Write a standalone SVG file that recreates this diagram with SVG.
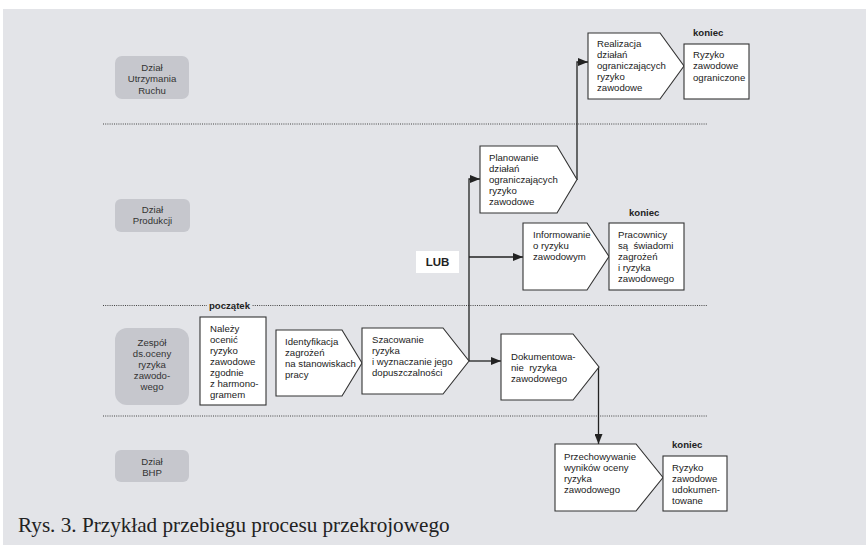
<svg xmlns="http://www.w3.org/2000/svg" width="866" height="545" viewBox="0 0 866 545">
<defs>
<style>
.t{font-family:"Liberation Sans",Arial,sans-serif;font-size:9.6px;fill:#222}
.lane{font-family:"Liberation Sans",Arial,sans-serif;font-size:9.6px;fill:#333;text-anchor:middle}
.b{font-family:"Liberation Sans",Arial,sans-serif;font-size:9.6px;font-weight:bold;fill:#222}
.box{fill:#fff;stroke:#333;stroke-width:1.1}
.lanebox{fill:#c6c7cd}
.dot{stroke:#444;stroke-width:1;stroke-dasharray:1 1.2;fill:none}
.con{stroke:#222;stroke-width:1.3;fill:none}
</style>
<marker id="ah" viewBox="0 0 10 8" refX="10" refY="4" markerWidth="10" markerHeight="8" markerUnits="userSpaceOnUse" orient="auto">
<path d="M0,0 L10,4 L0,8 Z" fill="#222"/>
</marker>
</defs>
<rect x="3" y="9" width="863" height="536" fill="#e3e4e8"/>

<g id="lanes">
<line class="dot" x1="103" y1="124" x2="707" y2="124"/>
<line class="dot" x1="103" y1="305.5" x2="707" y2="305.5"/>
<line class="dot" x1="103" y1="416" x2="707" y2="416"/>
</g>

<g id="lane-utrzymania">
<rect class="lanebox" x="115" y="56" width="74" height="43" rx="7"/>
<text class="lane" x="152" y="70.5">Dział<tspan x="152" dy="11.5">Utrzymania</tspan><tspan x="152" dy="11.5">Ruchu</tspan></text>
</g>
<g id="lane-produkcji">
<rect class="lanebox" x="115" y="199" width="75" height="33" rx="6"/>
<text class="lane" x="152.5" y="213">Dział<tspan x="152.5" dy="11">Produkcji</tspan></text>
</g>
<g id="lane-zespol">
<rect class="lanebox" x="115" y="328" width="74" height="77" rx="12"/>
<text class="lane" x="152" y="345.5">Zespół<tspan x="152" dy="11">ds.oceny</tspan><tspan x="152" dy="11">ryzyka</tspan><tspan x="152" dy="11">zawodo-</tspan><tspan x="152" dy="11">wego</tspan></text>
</g>
<g id="lane-bhp">
<rect class="lanebox" x="115" y="450" width="74" height="32" rx="6"/>
<text class="lane" x="152" y="465">Dział<tspan x="152" dy="11">BHP</tspan></text>
</g>

<g id="connectors">
<polyline class="con" points="469,361 469,179 480,179" marker-end="url(#ah)"/>
<line class="con" x1="469" y1="257" x2="523" y2="257" marker-end="url(#ah)"/>
<line class="con" x1="469" y1="361" x2="501" y2="361" marker-end="url(#ah)"/>
<polyline class="con" points="577,180 577,62 588,62" marker-end="url(#ah)"/>
<line class="con" x1="598.5" y1="367" x2="598.5" y2="444" marker-end="url(#ah)"/>
</g>

<g id="start-label">
<rect x="207" y="300" width="45" height="10" fill="#e3e4e8"/>
<text class="b" x="229.5" y="309" text-anchor="middle">początek</text>
</g>

<g id="n-nalezy">
<rect class="box" x="200" y="317" width="66" height="88"/>
<text class="t" x="210" y="331.5">Należy<tspan x="210" dy="11">ocenić</tspan><tspan x="210" dy="11">ryzyko</tspan><tspan x="210" dy="11">zawodowe</tspan><tspan x="210" dy="11">zgodnie</tspan><tspan x="210" dy="11">z harmono-</tspan><tspan x="210" dy="11">gramem</tspan></text>
</g>

<g id="n-identyfikacja">
<polygon class="box" points="276,330 342,330 362,363 342,396 276,396"/>
<text class="t" x="285" y="344.5">Identyfikacja<tspan x="285" dy="11">zagrożeń</tspan><tspan x="285" dy="11">na stanowiskach</tspan><tspan x="285" dy="11">pracy</tspan></text>
</g>

<g id="n-szacowanie">
<polygon class="box" points="362,328 443,328 469,361 443,394 362,394"/>
<text class="t" x="372" y="342.5">Szacowanie<tspan x="372" dy="11">ryzyka</tspan><tspan x="372" dy="11">i wyznaczanie jego</tspan><tspan x="372" dy="11">dopuszczalności</tspan></text>
</g>

<g id="n-dokumentowanie">
<polygon class="box" points="501,334 573,334 599,367 573,400 501,400"/>
<text class="t" x="511" y="359.5" xml:space="preserve">Dokumentowa-<tspan x="511" dy="11">nie  ryzyka</tspan><tspan x="511" dy="11">zawodowego</tspan></text>
</g>

<g id="n-przechowywanie">
<polygon class="box" points="555,444 636,444 663,477.5 636,511 555,511"/>
<text class="t" x="564" y="459.5">Przechowywanie<tspan x="564" dy="11">wyników oceny</tspan><tspan x="564" dy="11">ryzyka</tspan><tspan x="564" dy="11">zawodowego</tspan></text>
</g>

<g id="n-udokumentowane">
<text class="b" x="672" y="447.5">koniec</text>
<rect class="box" x="663" y="456" width="64" height="55"/>
<text class="t" x="672" y="470.5">Ryzyko<tspan x="672" dy="11">zawodowe</tspan><tspan x="672" dy="11">udokumen-</tspan><tspan x="672" dy="11">towane</tspan></text>
</g>

<g id="n-lub">
<rect x="416" y="251" width="43" height="22" fill="#fff"/>
<text x="437.5" y="266" text-anchor="middle" font-family="Liberation Sans, Arial, sans-serif" font-size="11.5" font-weight="bold" fill="#222">LUB</text>
</g>

<g id="n-informowanie">
<polygon class="box" points="523,223 587,223 609,256.5 587,290 523,290"/>
<text class="t" x="533" y="237.5">Informowanie<tspan x="533" dy="11">o ryzyku</tspan><tspan x="533" dy="11">zawodowym</tspan></text>
</g>

<g id="n-pracownicy">
<text class="b" x="629" y="215.5">koniec</text>
<rect class="box" x="609" y="223" width="75" height="67"/>
<text class="t" x="618" y="237.5" xml:space="preserve">Pracownicy<tspan x="618" dy="11">są  świadomi</tspan><tspan x="618" dy="11">zagrożeń</tspan><tspan x="618" dy="11">i ryzyka</tspan><tspan x="618" dy="11">zawodowego</tspan></text>
</g>

<g id="n-planowanie">
<polygon class="box" points="480,146 557,146 577,179.5 557,213 480,213"/>
<text class="t" x="489" y="160.5">Planowanie<tspan x="489" dy="11">działań</tspan><tspan x="489" dy="11">ograniczających</tspan><tspan x="489" dy="11">ryzyko</tspan><tspan x="489" dy="11">zawodowe</tspan></text>
</g>

<g id="n-realizacja">
<polygon class="box" points="588,33 660,33 684,66 660,99 588,99"/>
<text class="t" x="597" y="46.5">Realizacja<tspan x="597" dy="11">działań</tspan><tspan x="597" dy="11">ograniczających</tspan><tspan x="597" dy="11">ryzyko</tspan><tspan x="597" dy="11">zawodowe</tspan></text>
</g>

<g id="n-ograniczone">
<text class="b" x="693" y="35.5">koniec</text>
<rect class="box" x="684" y="44" width="65" height="55"/>
<text class="t" x="693" y="57.5">Ryzyko<tspan x="693" dy="11.5">zawodowe</tspan><tspan x="693" dy="11.5">ograniczone</tspan></text>
</g>

<text x="18" y="532" font-family="Liberation Serif, 'Times New Roman', serif" font-size="21.2" fill="#222">Rys. 3. Przykład przebiegu procesu przekrojowego</text>
</svg>
